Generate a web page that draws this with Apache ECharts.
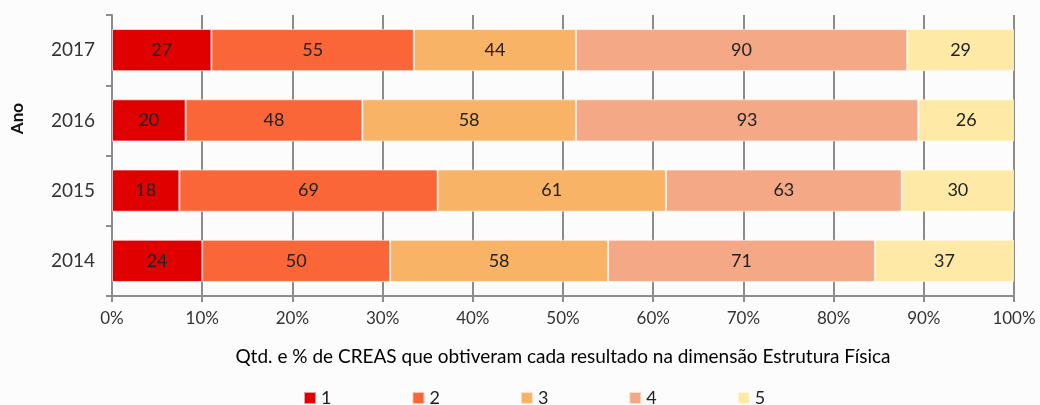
<!DOCTYPE html>
<html>
<head>
<meta charset="utf-8">
<script src="https://cdn.jsdelivr.net/npm/echarts@6/dist/echarts.min.js"></script>
<style>
  html, body { margin: 0; padding: 0; background: #fcfcfc; }
  #chart { width: 1040px; height: 405px; }
</style>
</head>
<body>
<div id="chart"></div>
<script>
// categorias (de baixo para cima)
const anos = ['2014', '2015', '2016', '2017'];
const resultados = ['1', '2', '3', '4', '5'];
// quantidade de CREAS por resultado, por ano
const qtd1 = [24, 18, 20, 27];
const qtd2 = [50, 69, 48, 55];
const qtd3 = [58, 61, 58, 44];
const qtd4 = [71, 63, 93, 90];
const qtd5 = [37, 30, 26, 29];
const xTicks = [0, 10, 20, 30, 40, 50, 60, 70, 80, 90, 100];

const cores = ['#e00000', '#fa6638', '#f9b367', '#f4a886', '#feeaa6'];
const FONT = 'Lato, "Open Sans", sans-serif';

const qtds = [qtd1, qtd2, qtd3, qtd4, qtd5];
const totais = anos.map((a, i) => qtds.reduce((s, q) => s + q[i], 0));

const chart = echarts.init(document.getElementById('chart'));

const series = resultados.map((nome, k) => ({
  name: nome,
  type: 'bar',
  stack: 'total',
  barCategoryGap: '40%',
  data: qtds[k].map((v, i) => v / totais[i] * 100),
  itemStyle: { color: cores[k], borderColor: 'rgba(255,255,255,0.6)', borderWidth: 1 },
  label: {
    show: true,
    position: 'inside',
    color: '#222',
    fontSize: 18,
    fontFamily: FONT,
    formatter: (p) => String(qtds[k][p.dataIndex])
  }
}));

chart.setOption({
  backgroundColor: '#fcfcfc',
  animation: false,
  grid: { left: 112, right: 26, top: 15, bottom: 109 },
  graphic: [{
    type: 'text',
    left: 9,
    top: 103,
    rotation: Math.PI / 2,
    style: { text: 'Ano', fontSize: 17, fontWeight: 'bold', fill: '#111', fontFamily: FONT }
  }],
  legend: {
    top: 384,
    left: 298,
    data: resultados,
    itemWidth: 12,
    itemHeight: 12,
    itemGap: 80,
    icon: 'rect',
    textStyle: { fontSize: 18, color: '#222', fontFamily: FONT }
  },
  xAxis: {
    type: 'value',
    min: xTicks[0],
    max: xTicks[xTicks.length - 1],
    interval: 10,
    name: 'Qtd. e % de CREAS que obtiveram cada resultado na dimensão Estrutura Física',
    nameLocation: 'middle',
    nameGap: 51,
    nameTextStyle: { fontSize: 19, color: '#000', fontFamily: FONT },
    axisLine: { show: true, lineStyle: { color: '#8c8c8c', width: 2 } },
    axisTick: { show: true, length: 6, lineStyle: { color: '#8c8c8c', width: 2 } },
    axisLabel: { fontSize: 17, color: '#333', margin: 14, fontFamily: FONT, formatter: '{value}%' },
    splitLine: { show: true, lineStyle: { color: '#8c8c8c', width: 2 } }
  },
  yAxis: {
    type: 'category',
    data: anos,
    axisLine: { show: true, lineStyle: { color: '#8c8c8c', width: 2 } },
    axisTick: { show: true, length: 6, alignWithLabel: false, lineStyle: { color: '#8c8c8c', width: 2 } },
    axisLabel: { fontSize: 19, color: '#333', margin: 17, fontFamily: FONT }
  },
  series: series
});
</script>
</body>
</html>
